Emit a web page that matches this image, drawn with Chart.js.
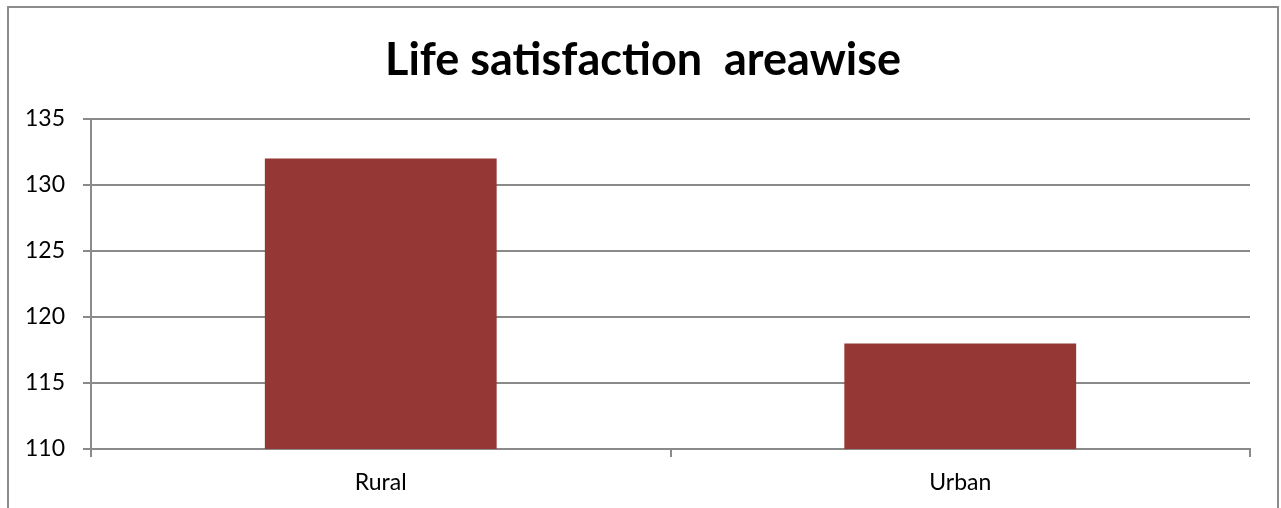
<!DOCTYPE html>
<html>
<head>
<meta charset="utf-8">
<script src="https://cdn.jsdelivr.net/npm/chart.js@4"></script>
<style>
  html, body { margin: 0; padding: 0; background: #fff; overflow: hidden; }
  #frame {
    position: absolute; left: 7px; top: 6px;
    width: 1268px; height: 520px;
    border: 2px solid #8c8c8c;
  }
  #areaChart { display: block; }
</style>
</head>
<body>
<div id="frame">
  <canvas id="areaChart" width="1268" height="500"></canvas>
</div>
<script>
// Life satisfaction by area
const categories = ['Rural', 'Urban'];
const satisfaction = [132, 118];
const yTicks = [110, 115, 120, 125, 130, 135];

const GRID = '#8a8a8a';
const FONT = 'Lato, "Open Sans", sans-serif';

new Chart(document.getElementById('areaChart'), {
  type: 'bar',
  data: {
    labels: categories,
    datasets: [{
      label: 'Life satisfaction',
      data: satisfaction,
      backgroundColor: '#953735',
      borderWidth: 0,
      barPercentage: 0.4,
      categoryPercentage: 1
    }]
  },
  options: {
    responsive: false,
    animation: false,
    layout: { padding: 0 },
    plugins: {
      legend: { display: false },
      tooltip: { enabled: false },
      title: {
        display: true,
        text: 'Life satisfaction  areawise',
        color: '#000',
        font: { family: FONT, size: 45, weight: 'bold' },
        padding: { top: 25, bottom: 32 }
      }
    },
    scales: {
      x: {
        grid: {
          display: true,
          offset: true,
          drawOnChartArea: false,
          drawTicks: true,
          tickLength: 8,
          color: GRID,
          lineWidth: 2
        },
        border: { display: true, color: GRID, width: 2 },
        ticks: { color: '#000', font: { family: FONT, size: 23 }, padding: 12 },
        afterFit: s => { s.height = 59; }
      },
      y: {
        min: yTicks[0],
        max: yTicks[yTicks.length - 1],
        afterBuildTicks: s => { s.ticks = yTicks.map(v => ({ value: v })); },
        grid: { color: GRID, lineWidth: 2, tickLength: 8 },
        border: { display: true, color: GRID, width: 2 },
        ticks: { color: '#000', font: { family: FONT, size: 23 }, padding: 18 },
        afterFit: s => { s.width = 82; }
      },
      // empty right-hand spacer so the plot stops short of the frame
      spacer: {
        position: 'right',
        type: 'linear',
        grid: { display: false },
        border: { display: false },
        ticks: { display: false },
        afterFit: s => { s.width = 27; }
      }
    }
  }
});
</script>
</body>
</html>
